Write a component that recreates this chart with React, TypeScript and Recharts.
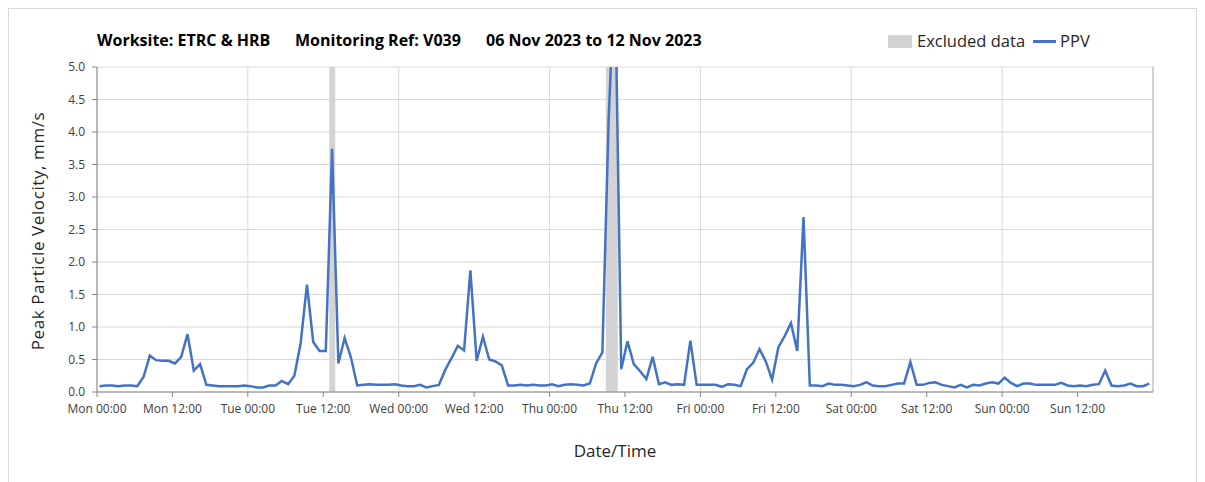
import {
  ComposedChart,
  Line,
  XAxis,
  YAxis,
  CartesianGrid,
  ReferenceArea,
  ReferenceLine,
} from "recharts";

// hourly PPV readings, Mon 06 Nov 00:24 onwards (mm/s)
const ppv = [
  0.09, 0.1, 0.1, 0.09, 0.1, 0.1, 0.09, 0.23, 0.56, 0.49, 0.48, 0.48, 0.44, 0.54, 0.89, 0.33, 0.43, 0.11, 0.1, 0.09, 0.09, 0.09, 0.09, 0.1,
  0.09, 0.07, 0.07, 0.1, 0.1, 0.17, 0.12, 0.25, 0.75, 1.65, 0.77, 0.63, 0.63, 3.74, 0.44, 0.83, 0.53, 0.1, 0.11, 0.12, 0.11, 0.11, 0.11, 0.12,
  0.1, 0.09, 0.09, 0.11, 0.07, 0.09, 0.11, 0.34, 0.52, 0.71, 0.64, 1.87, 0.48, 0.85, 0.5, 0.47, 0.41, 0.1, 0.1, 0.11, 0.1, 0.11, 0.1, 0.1,
  0.12, 0.09, 0.11, 0.12, 0.11, 0.1, 0.13, 0.44, 0.61, 4.2, 6.5, 0.35, 0.78, 0.43, 0.32, 0.2, 0.54, 0.12, 0.15, 0.11, 0.12, 0.11, 0.79, 0.11,
  0.11, 0.11, 0.11, 0.08, 0.12, 0.11, 0.09, 0.35, 0.45, 0.66, 0.47, 0.19, 0.69, 0.86, 1.06, 0.63, 2.69, 0.1, 0.1, 0.09, 0.13, 0.11, 0.11, 0.1,
  0.09, 0.11, 0.15, 0.1, 0.09, 0.09, 0.11, 0.13, 0.13, 0.46, 0.11, 0.11, 0.14, 0.15, 0.11, 0.09, 0.07, 0.11, 0.07, 0.11, 0.1, 0.13, 0.15, 0.13,
  0.22, 0.14, 0.09, 0.13, 0.13, 0.11, 0.11, 0.11, 0.11, 0.14, 0.1, 0.09, 0.1, 0.09, 0.11, 0.12, 0.33, 0.1, 0.09, 0.1, 0.13, 0.09, 0.09, 0.13,
];
const firstReadingHour = 0.4; // 00:24

// excluded periods, hours from Mon 00:00
const excludedFrom = [36.95, 80.95];
const excludedTo = [37.9, 82.85];

const days = ["Mon", "Tue", "Wed", "Thu", "Fri", "Sat", "Sun"];
const xTicks = [0, 12, 24, 36, 48, 60, 72, 84, 96, 108, 120, 132, 144, 156];
const dayLines = [0, 24, 48, 72, 96, 120, 144];
const yTicks = [0, 0.5, 1, 1.5, 2, 2.5, 3, 3.5, 4, 4.5, 5];

const titleParts = ["Worksite: ETRC & HRB", "Monitoring Ref: V039", "06 Nov 2023 to 12 Nov 2023"];

const data = ppv.map((v, i) => ({ t: i + firstReadingHour, ppv: v }));

const FONT = "'Open Sans', sans-serif";
const BLUE = "#4472c4";
const BAND = "#d3d3d3";

function fmtTick(h: number) {
  const d = days[Math.floor(h / 24)];
  const hh = h % 24 === 0 ? "00" : "12";
  return `${d} ${hh}:00`;
}

const titleLeft = [88, 286, 477];

export default function App() {
  return (
    <div
      style={{
        position: "relative",
        width: 1189,
        height: 490,
        border: "1px solid #d9d9d9",
        boxSizing: "border-box",
        fontFamily: FONT,
      }}
    >
      {titleParts.map((t, i) => (
        <div
          key={t}
          style={{
            position: "absolute",
            left: titleLeft[i],
            top: 21,
            fontSize: 16,
            fontWeight: 700,
            lineHeight: "20px",
            color: "#000",
            whiteSpace: "pre",
          }}
        >
          {t}
        </div>
      ))}

      <div
        style={{
          position: "absolute",
          left: 879,
          top: 22,
          display: "flex",
          alignItems: "center",
          fontSize: 16.5,
          lineHeight: "20px",
          color: "#262626",
        }}
      >
        <span style={{ width: 24, height: 13, background: BAND, marginRight: 5 }} />
        <span>Excluded data</span>
        <span style={{ width: 23, height: 3, background: BLUE, marginLeft: 8, marginRight: 4 }} />
        <span>PPV</span>
      </div>

      <div
        style={{
          position: "absolute",
          left: 28,
          top: 222,
          transform: "translate(-50%, -50%) rotate(-90deg)",
          fontSize: 17,
          letterSpacing: 0.6,
          color: "#262626",
          whiteSpace: "nowrap",
        }}
      >
        Peak Particle Velocity, mm/s
      </div>

      <div
        style={{
          position: "absolute",
          left: 606,
          top: 441,
          transform: "translate(-50%, -50%)",
          fontSize: 17,
          color: "#262626",
          whiteSpace: "nowrap",
        }}
      >
        Date/Time
      </div>

      <div style={{ position: "absolute", left: 0, top: 0 }}>
        <ComposedChart
          width={1187}
          height={420}
          data={data}
          margin={{ top: 58, right: 43, bottom: 7, left: 0 }}
        >
          <CartesianGrid vertical={false} stroke="#d9d9d9" strokeWidth={1} />
          {excludedFrom.map((x1, i) => (
            <ReferenceArea
              key={i}
              x1={x1}
              x2={excludedTo[i]}
              y1={0}
              y2={5}
              fill={BAND}
              fillOpacity={1}
              stroke="none"
              ifOverflow="hidden"
            />
          ))}
          {dayLines.map((d) => (
            <ReferenceLine key={d} x={d} stroke="#d9d9d9" strokeWidth={1} />
          ))}
          <ReferenceLine x={168} stroke="#a6a6a6" strokeWidth={1} />
          <XAxis
            dataKey="t"
            type="number"
            domain={[0, 168]}
            ticks={xTicks}
            tickFormatter={fmtTick}
            interval={0}
            height={30}
            stroke="#868686"
            tickSize={5}
            tickMargin={7}
            tick={{ fill: "#404040", fontSize: 12, fontFamily: FONT }}
          />
          <YAxis
            type="number"
            domain={[0, 5]}
            ticks={yTicks}
            allowDataOverflow
            width={88}
            stroke="#868686"
            tickSize={5}
            tickMargin={7}
            tickFormatter={(v: number) => v.toFixed(1)}
            tick={{ fill: "#404040", fontSize: 12, fontFamily: FONT }}
          />
          <Line
            type="linear"
            dataKey="ppv"
            stroke={BLUE}
            strokeWidth={2.5}
            dot={false}
            activeDot={false}
            isAnimationActive={false}
          />
        </ComposedChart>
      </div>
    </div>
  );
}
